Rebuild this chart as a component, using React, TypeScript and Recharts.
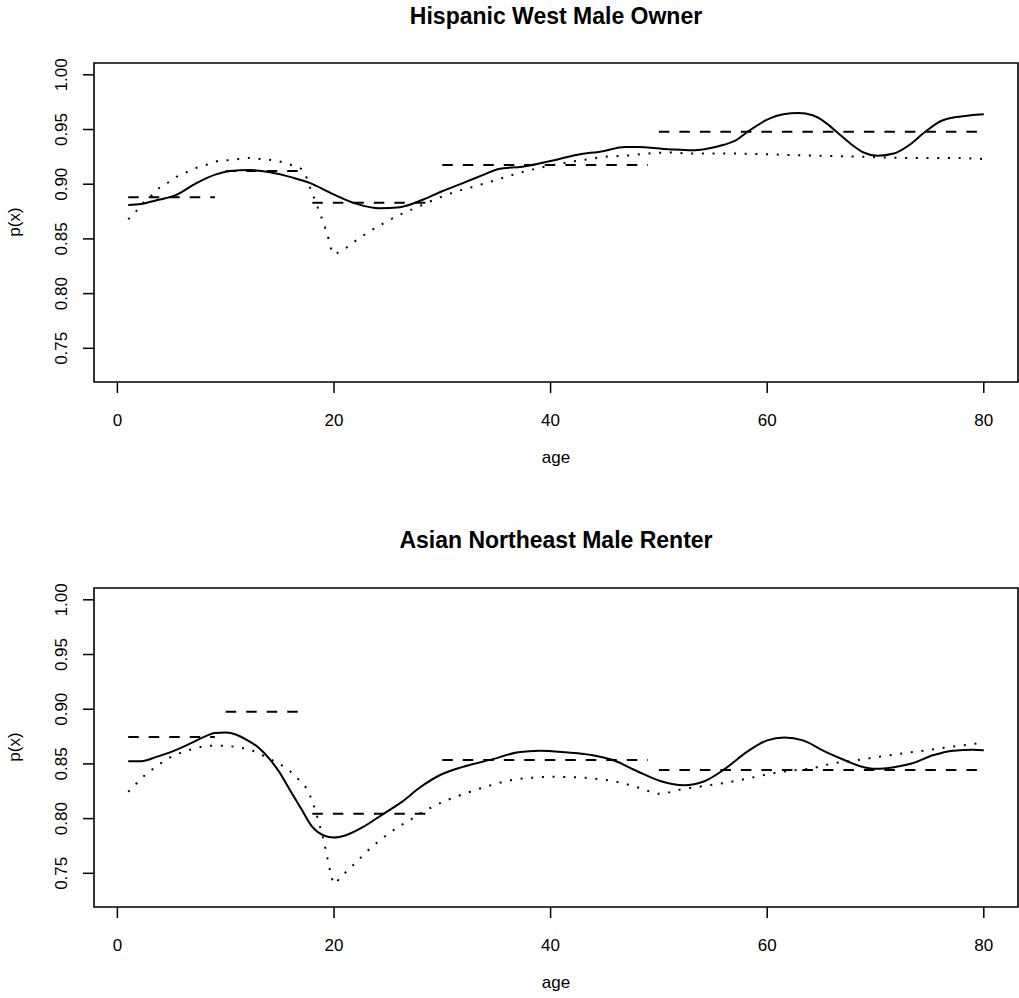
import React from 'react';
import { LineChart, Line, XAxis, YAxis, ReferenceArea } from 'recharts';

const FONT = '"Liberation Sans", Arial, Helvetica, sans-serif';

const panelTitles = ['Hispanic West Male Owner', 'Asian Northeast Male Renter'];
const xTicks = [0, 20, 40, 60, 80];
const yTicks = [0.75, 0.8, 0.85, 0.9, 0.95, 1.0];
const xDomain = [-2.16, 83.16];
const yDomain = [0.7192, 1.0108];

// age groups for the dashed (group mean) segments
const groupStart = [1, 10, 18, 30, 50];
const groupEnd = [9, 17, 29, 49, 80];
const topGroupMean = [0.888, 0.912, 0.883, 0.9175, 0.948];
const bottomGroupMean = [0.8745, 0.8976, 0.8045, 0.8536, 0.8445];

// top panel: solid curve
const topSolidAge = [1, 2.2, 3.9, 5.4, 7.3, 9.1, 10.4, 12.2, 14.1, 16.2, 17.8, 19.9, 22.1, 24.2, 26.1, 28.25, 30.1, 31.9, 33.9, 35.2, 37.4, 39.9, 42.5, 44.7, 46.9, 48.0, 50.9, 53.1, 54.2, 56.0, 57.1, 58.2, 60.0, 61.5, 62.9, 64.2, 65.3, 66.4, 67.7, 68.9, 70.2, 71.7, 73.0, 74.6, 76.1, 77.2, 78.8, 80];
const topSolidP = [0.881, 0.882, 0.886, 0.89, 0.901, 0.909, 0.912, 0.913, 0.911, 0.906, 0.901, 0.891, 0.882, 0.878, 0.879, 0.886, 0.894, 0.901, 0.909, 0.914, 0.916, 0.921, 0.927, 0.93, 0.934, 0.934, 0.932, 0.931, 0.932, 0.936, 0.94, 0.948, 0.959, 0.964, 0.965, 0.963, 0.957, 0.948, 0.937, 0.929, 0.926, 0.928, 0.935, 0.948, 0.958, 0.961, 0.963, 0.964];

// top panel: dotted curve
const topDotAge = [1, 1.7, 2.4, 3.1, 3.8, 4.6, 5.5, 6.4, 7.3, 8.3, 9.2, 10.2, 11.2, 12.3, 13.3, 14.3, 15.3, 16.2, 17.1, 17.9, 18.6, 19.3, 20.0, 20.6, 21.3, 22.1, 23.0, 24.7, 26.5, 27.45, 29.3, 31.2, 33.0, 35.0, 37.0, 39.0, 41.0, 42.9, 44.9, 46.9, 48.9, 50.9, 53.1, 57.1, 61.1, 65.1, 69.1, 73.1, 77.2, 80];
const topDotP = [0.868, 0.875, 0.883, 0.889, 0.896, 0.901, 0.907, 0.911, 0.915, 0.918, 0.921, 0.922, 0.923, 0.924, 0.923, 0.922, 0.92, 0.917, 0.913, 0.894, 0.876, 0.857, 0.836, 0.839, 0.843, 0.849, 0.855, 0.865, 0.874, 0.878, 0.886, 0.893, 0.898, 0.904, 0.91, 0.915, 0.919, 0.922, 0.925, 0.926, 0.928, 0.929, 0.928, 0.928, 0.927, 0.926, 0.925, 0.924, 0.924, 0.923];

// bottom panel: solid curve
const botSolidAge = [1, 2.2, 3.6, 5.1, 6.7, 7.9, 9.0, 10.0, 11.0, 11.9, 13.0, 14.1, 15.0, 15.9, 17.0, 18.0, 19.0, 20.0, 21.1, 22.7, 24.5, 26.3, 27.9, 29.9, 31.9, 34.5, 37.0, 39.0, 41.4, 43.9, 45.8, 48.0, 50.2, 52.3, 54.2, 56.0, 58.2, 60.0, 61.6, 63.3, 65.3, 66.9, 68.6, 70.0, 71.7, 73.5, 75.3, 77.2, 79.0, 80];
const botSolidP = [0.8524, 0.8524, 0.8564, 0.8615, 0.8685, 0.8742, 0.8782, 0.8788, 0.8767, 0.8721, 0.8652, 0.8539, 0.8418, 0.8267, 0.8085, 0.7924, 0.7848, 0.7827, 0.7848, 0.7924, 0.8039, 0.8155, 0.8282, 0.8403, 0.8473, 0.8539, 0.8606, 0.8621, 0.8606, 0.8579, 0.8533, 0.8433, 0.8342, 0.8306, 0.8342, 0.8448, 0.8615, 0.8715, 0.8742, 0.8715, 0.8615, 0.8545, 0.8479, 0.8455, 0.847, 0.8509, 0.8579, 0.8621, 0.863, 0.8624];

// bottom panel: dotted curve
const botDotAge = [1, 1.7, 2.4, 3.2, 4.0, 4.8, 5.8, 6.7, 7.7, 8.7, 9.8, 10.7, 11.7, 12.7, 13.6, 14.5, 15.4, 16.2, 16.9, 17.6, 18.0, 18.6, 19.1, 19.7, 20.0, 20.6, 21.4, 22.1, 22.8, 23.5, 24.3, 25.1, 26.0, 26.8, 28.55, 30.4, 32.3, 34.2, 36.2, 38.2, 40.2, 42.2, 44.2, 46.25, 48.15, 50.1, 52.05, 54.1, 56.1, 58.1, 60.1, 62.0, 64.0, 66.0, 68.0, 70.05, 72.1, 74.0, 76.1, 78.1, 80];
const botDotP = [0.8245, 0.8315, 0.8385, 0.8448, 0.8506, 0.8555, 0.86, 0.863, 0.8655, 0.8667, 0.8667, 0.8658, 0.8642, 0.8612, 0.857, 0.8524, 0.8473, 0.8412, 0.8339, 0.8252, 0.8155, 0.7964, 0.7776, 0.75, 0.7403, 0.7464, 0.7539, 0.7606, 0.7676, 0.7742, 0.7806, 0.7867, 0.7927, 0.7975, 0.8079, 0.8167, 0.8236, 0.8297, 0.8348, 0.8373, 0.8382, 0.8379, 0.8364, 0.8333, 0.8282, 0.8227, 0.8267, 0.8297, 0.8327, 0.8364, 0.8406, 0.8436, 0.8458, 0.8503, 0.853, 0.8561, 0.8591, 0.8615, 0.8645, 0.867, 0.8697];

const toPts = (ages: number[], ps: number[]) => ages.map((a, i) => ({ age: a, p: ps[i] }));

const XTick = (props: any) => {
  const { x, y, payload } = props;
  return (
    <text x={x} y={y + 33} textAnchor="middle" fontFamily={FONT} fontSize={17} fill="#000">
      {payload.value}
    </text>
  );
};

const YTick = (props: any) => {
  const { x, y, payload } = props;
  return (
    <text x={x} y={y} transform={`rotate(-90 ${x} ${y})`} textAnchor="middle" fontFamily={FONT} fontSize={17} fill="#000">
      {Number(payload.value).toFixed(2)}
    </text>
  );
};

function Panel({ solid, dotted, means }: { solid: any[]; dotted: any[]; means: number[] }) {
  const segs = groupStart.map((s, i) => [
    { age: s, p: means[i] },
    { age: groupEnd[i], p: means[i] },
  ]);
  return (
    <LineChart width={1019} height={525} margin={{ top: 63, right: 1, bottom: 103, left: 0 }}>
      <XAxis
        type="number"
        dataKey="age"
        domain={xDomain}
        ticks={xTicks}
        interval={0}
        allowDataOverflow
        height={40}
        tickSize={11}
        tickMargin={0}
        axisLine={false}
        stroke="#000"
        tickLine={{ stroke: '#000', strokeWidth: 1.5 }}
        tick={<XTick />}
      />
      <YAxis
        type="number"
        dataKey="p"
        domain={yDomain}
        ticks={yTicks}
        interval={0}
        allowDataOverflow
        width={94}
        tickSize={11}
        tickMargin={16}
        axisLine={false}
        stroke="#000"
        tickLine={{ stroke: '#000', strokeWidth: 1.5 }}
        tick={<YTick />}
      />
      <ReferenceArea
        x1={xDomain[0]}
        x2={xDomain[1]}
        y1={yDomain[0]}
        y2={yDomain[1]}
        fill="none"
        stroke="#000"
        strokeWidth={1.6}
        ifOverflow="visible"
      />
      {segs.map((d, i) => (
        <Line
          key={'seg' + i}
          data={d}
          dataKey="p"
          type="linear"
          stroke="#000"
          strokeWidth={2}
          strokeDasharray="10.5 10"
          dot={false}
          activeDot={false}
          isAnimationActive={false}
        />
      ))}
      <Line
        data={dotted}
        dataKey="p"
        type="monotone"
        stroke="#000"
        strokeWidth={2}
        strokeDasharray="2 8.7"
        dot={false}
        activeDot={false}
        isAnimationActive={false}
      />
      <Line
        data={solid}
        dataKey="p"
        type="monotone"
        stroke="#000"
        strokeWidth={2}
        dot={false}
        activeDot={false}
        isAnimationActive={false}
      />
    </LineChart>
  );
}

export default function App() {
  const panels = [
    { solid: toPts(topSolidAge, topSolidP), dotted: toPts(topDotAge, topDotP), means: topGroupMean },
    { solid: toPts(botSolidAge, botSolidP), dotted: toPts(botDotAge, botDotP), means: bottomGroupMean },
  ];
  return (
    <div style={{ position: 'absolute', left: 0, top: 0, width: 1019, height: 998, overflow: 'hidden', background: '#fff' }}>
      {panels.map((pn, i) => (
        <div key={i} style={{ position: 'absolute', left: 0, top: i * 525, width: 1019, height: 525 }}>
          <Panel solid={pn.solid} dotted={pn.dotted} means={pn.means} />
        </div>
      ))}
      <svg width={1019} height={998} style={{ position: 'absolute', left: 0, top: 0, pointerEvents: 'none' }}>
        {panelTitles.map((t, i) => (
          <g key={i}>
            <text x={556} y={24 + i * 524} textAnchor="middle" fontFamily={FONT} fontWeight="bold" fontSize={23} fill="#000">
              {t}
            </text>
            <text x={556} y={463 + i * 525} textAnchor="middle" fontFamily={FONT} fontSize={17} fill="#000">
              age
            </text>
            <text
              x={20}
              y={222 + i * 525}
              transform={`rotate(-90 20 ${222 + i * 525})`}
              textAnchor="middle"
              fontFamily={FONT}
              fontSize={17}
              fill="#000"
            >
              p(x)
            </text>
          </g>
        ))}
      </svg>
    </div>
  );
}
